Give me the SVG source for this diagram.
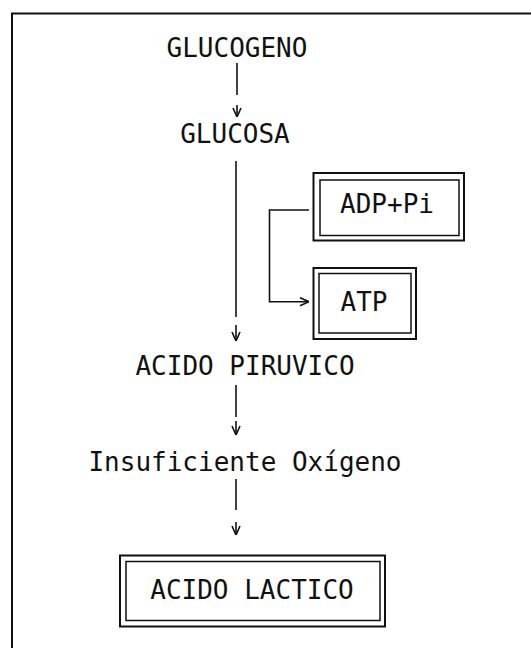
<svg xmlns="http://www.w3.org/2000/svg" width="531" height="648" viewBox="0 0 531 648">
<defs>
<style>
text{font-family:"DejaVu Sans Mono","Liberation Mono",monospace;font-size:26px;fill:#111;text-anchor:middle}
.ln{stroke:#111;stroke-width:1.6;fill:none}
.ob{stroke:#111;stroke-width:2;fill:#fff}
.ib{stroke:#111;stroke-width:1.5;fill:none}
.frame{stroke:#111;stroke-width:2;fill:none}
</style>
<marker id="ah" viewBox="0 0 10 10" refX="10" refY="5" markerWidth="10" markerHeight="10" markerUnits="userSpaceOnUse" orient="auto">
<path d="M1,1 L10,5 L1,9" fill="none" stroke="#111" stroke-width="1.6"/>
</marker>
</defs>
<rect width="531" height="648" fill="#fff"/>
<path class="frame" d="M12,648 V13.5 H531"/>
<g id="connectors">
<path class="ln" d="M237,63 V95"/>
<path class="ln" d="M237,105 V117" marker-end="url(#ah)"/>
<path class="ln" d="M236,161 V317"/>
<path class="ln" d="M236,325 V341" marker-end="url(#ah)"/>
<path class="ln" d="M236,385 V417"/>
<path class="ln" d="M236,421 V435" marker-end="url(#ah)"/>
<path class="ln" d="M236,479 V510"/>
<path class="ln" d="M236,522 V535" marker-end="url(#ah)"/>
<path class="ln" d="M309,210 H269.5 V301.7 H309" marker-end="url(#ah)"/>
</g>
<g id="glucogeno"><text x="237" y="57">GLUCOGENO</text></g>
<g id="glucosa"><text x="235" y="143">GLUCOSA</text></g>
<g id="adp">
<rect class="ob" x="313.5" y="173" width="150.5" height="67.5"/>
<rect class="ib" x="320" y="180" width="139" height="55.5"/>
<text x="387" y="213">ADP+Pi</text>
</g>
<g id="atp">
<rect class="ob" x="313.5" y="268" width="102.5" height="71"/>
<rect class="ib" x="319" y="273.5" width="92" height="59.5"/>
<text x="364" y="311">ATP</text>
</g>
<g id="piruvico"><text x="245" y="375">ACIDO PIRUVICO</text></g>
<g id="oxigeno"><text x="245" y="471">Insuficiente Oxígeno</text></g>
<g id="lactico">
<rect class="ob" x="120" y="555.5" width="265" height="71"/>
<rect class="ib" x="126" y="561.5" width="254" height="59"/>
<text x="252" y="599">ACIDO LACTICO</text>
</g>
</svg>
